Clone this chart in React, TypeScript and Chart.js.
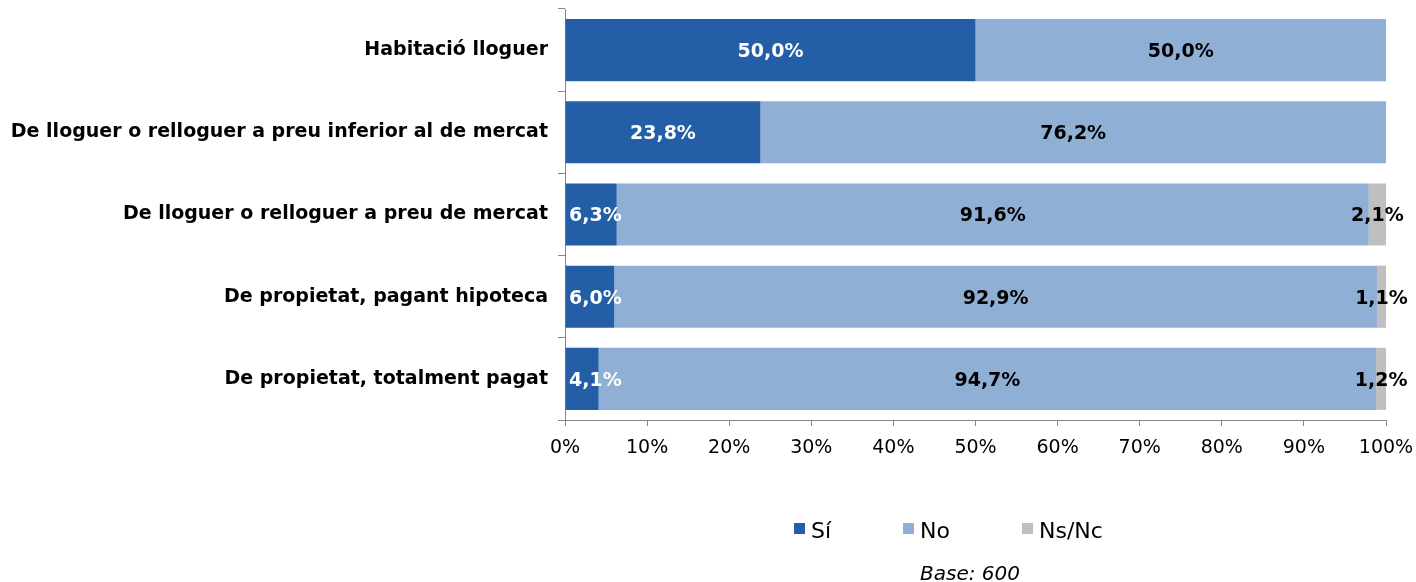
import React, { useEffect, useRef } from "react";
import { Chart, registerables } from "chart.js";

Chart.register(...registerables);

const categories = [
  "Habitació lloguer",
  "De lloguer o relloguer a preu inferior al de mercat",
  "De lloguer o relloguer a preu de mercat",
  "De propietat, pagant hipoteca",
  "De propietat, totalment pagat",
];
const seriesNames = ["Sí", "No", "Ns/Nc"];
const siValues = [50.0, 23.8, 6.3, 6.0, 4.1];
const noValues = [50.0, 76.2, 91.6, 92.9, 94.7];
const nsncValues = [0, 0, 2.1, 1.1, 1.2];
const xTicks = [0, 10, 20, 30, 40, 50, 60, 70, 80, 90, 100];
const baseNote = "Base: 600";

const colors = ["rgb(35,94,166)", "rgb(144,175,212)", "rgb(191,191,191)"];
const labelColors = ["#ffffff", "#000000", "#000000"];
const FONT = "'DejaVu Sans', Verdana, sans-serif";

const labelPlugin = {
  id: "barLabels",
  afterDatasetsDraw(chart: any) {
    const ctx = chart.ctx;
    const area = chart.chartArea;
    ctx.save();
    ctx.font = `bold 19px ${FONT}`;
    ctx.textBaseline = "middle";
    ctx.textAlign = "center";
    chart.data.datasets.forEach((ds: any, i: number) => {
      const meta = chart.getDatasetMeta(i);
      meta.data.forEach((bar: any, j: number) => {
        const v = ds.data[j];
        if (!v) return;
        const p = bar.getProps(["x", "y", "base"], true);
        const text = v.toFixed(1).replace(".", ",") + "%";
        const w = ctx.measureText(text).width;
        let cx = (p.x + p.base) / 2;
        if (i === 0) cx = Math.max(cx, area.left + w / 2 + 4);
        ctx.fillStyle = labelColors[i];
        ctx.fillText(text, cx, p.y + 2);
      });
    });
    ctx.restore();
  },
};

const legendPlugin = {
  id: "customLegend",
  afterDraw(chart: any) {
    const ctx = chart.ctx;
    ctx.save();
    const xs = [794, 903, 1022];
    const y = 529;
    ctx.font = `22px ${FONT}`;
    ctx.textBaseline = "alphabetic";
    ctx.textAlign = "left";
    seriesNames.forEach((name, i) => {
      ctx.fillStyle = colors[i];
      ctx.fillRect(xs[i], y - 6, 11, 11);
      ctx.fillStyle = "#000";
      ctx.fillText(name, xs[i] + 17, 538);
    });
    ctx.font = `italic 20px ${FONT}`;
    ctx.textAlign = "center";
    ctx.fillText(baseNote, 970, 580);
    ctx.restore();
  },
};

export default function App() {
  const ref = useRef<HTMLCanvasElement>(null);
  useEffect(() => {
    if (!ref.current) return;
    const chart = new Chart(ref.current, {
      type: "bar",
      data: {
        labels: categories,
        datasets: [siValues, noValues, nsncValues].map((d, i) => ({
          label: seriesNames[i],
          data: d,
          backgroundColor: colors[i],
          borderWidth: 0,
          barPercentage: 0.756,
          categoryPercentage: 1,
        })),
      },
      options: {
        indexAxis: "y",
        animation: false,
        responsive: false,
        maintainAspectRatio: false,
        layout: { padding: { top: 9, right: 30, left: 0, bottom: 0 } },
        plugins: {
          legend: { display: false },
          tooltip: { enabled: false },
        },
        scales: {
          x: {
            stacked: true,
            min: 0,
            max: 100,
            afterBuildTicks: (scale: any) => {
              scale.ticks = xTicks.map((v) => ({ value: v }));
            },
            afterFit: (scale: any) => {
              scale.height = 162;
              scale.paddingLeft = 0;
              scale.paddingRight = 0;
            },
            ticks: {
              callback: (v: any) => v + "%",
              color: "#000",
              font: { family: FONT, size: 19 },
              padding: 11,
              maxRotation: 0,
              autoSkip: false,
            },
            grid: {
              drawOnChartArea: false,
              drawTicks: true,
              tickLength: 6,
              color: "#868686",
            },
            border: { display: true, color: "#868686", width: 1 },
          },
          y: {
            stacked: true,
            afterFit: (scale: any) => {
              scale.width = 565;
              scale.paddingTop = 0;
              scale.paddingBottom = 0;
            },
            ticks: {
              color: "#000",
              font: { family: FONT, size: 19, weight: "bold" },
              padding: 10,
              autoSkip: false,
            },
            grid: {
              drawOnChartArea: false,
              drawTicks: true,
              tickLength: 7,
              color: "#868686",
              offset: true,
            },
            border: { display: true, color: "#868686", width: 1 },
          },
        },
      },
      plugins: [labelPlugin, legendPlugin],
    });
    return () => chart.destroy();
  }, []);
  return (
    <div style={{ position: "fixed", left: 0, top: 0, width: 1416, height: 582, background: "#fff" }}>
      <canvas ref={ref} width={1416} height={582} style={{ width: 1416, height: 582 }} />
    </div>
  );
}
